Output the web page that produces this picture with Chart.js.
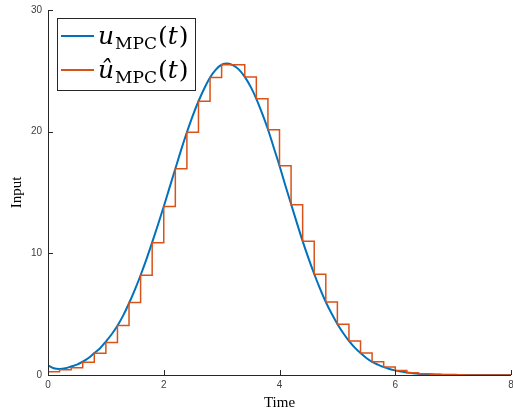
<!DOCTYPE html>
<html>
<head>
<meta charset="utf-8">
<script src="https://cdn.jsdelivr.net/npm/chart.js@4"></script>
<style>
  html, body { margin: 0; padding: 0; background: #fff; }
  #wrap { width: 513px; height: 412px; position: relative; }
</style>
</head>
<body>
<div id="wrap"><canvas id="mpcChart"></canvas></div>
<script>
// time grid of the continuous input (0.1 s) and of the held input (0.2 s)
const tCurve = [];
for (let i = 0; i <= 80; i++) tCurve.push(+(i * 0.1).toFixed(1));
const tSteps = [];
for (let i = 0; i <= 40; i++) tSteps.push(+(i * 0.2).toFixed(1));

// u_MPC(t)
const uCurve = [
  0.8, 0.55, 0.5, 0.55, 0.7, 0.85, 1.1, 1.4, 1.8, 2.2,
  2.75, 3.35, 4.05, 4.9, 5.9, 7.0, 8.2, 9.5, 10.9, 12.35,
  13.85, 15.4, 16.95, 18.5, 19.95, 21.3, 22.5, 23.55, 24.45, 25.1,
  25.5, 25.6, 25.45, 25.1, 24.5, 23.7, 22.7, 21.5, 20.2, 18.7,
  17.2, 15.6, 14.05, 12.5, 11.0, 9.6, 8.3, 7.1, 6.0, 5.05,
  4.2, 3.45, 2.8, 2.25, 1.8, 1.4, 1.08, 0.85, 0.65, 0.5,
  0.38, 0.28, 0.2, 0.15, 0.11, 0.08, 0.06, 0.04, 0.03, 0.02,
  0.015, 0.01, 0.01, 0.005, 0.005, 0, 0, 0, 0, 0,
  0
];

// \hat u_MPC(t), zero-order hold values, last one repeated to close at t = 8
const uHold = [
  0.27, 0.43, 0.6, 1.04, 1.78, 2.68, 4.07, 5.95, 8.2, 10.87,
  13.85, 16.95, 19.95, 22.5, 24.45, 25.5, 25.5, 24.5, 22.7, 20.15,
  17.2, 14.0, 11.0, 8.28, 6.0, 4.18, 2.79, 1.8, 1.08, 0.65,
  0.36, 0.19, 0.1, 0.05, 0.03, 0.02, 0.01, 0, 0, 0,
  0
];

const xTicks = [0, 2, 4, 6, 8];
const yTicks = [0, 10, 20, 30];

const blue = '#0072BD';
const orange = '#D95319';
const axisColor = '#262626';

// MATLAB style: axis lines on left/bottom, ticks pointing inward
const inwardTicks = {
  id: 'inwardTicks',
  afterDatasetsDraw: (chart) => {
    const {ctx, chartArea, scales} = chart;
    ctx.save();
    ctx.strokeStyle = axisColor;
    ctx.lineWidth = 1;
    ctx.beginPath();
    ctx.moveTo(chartArea.left + 0.5, chartArea.top);
    ctx.lineTo(chartArea.left + 0.5, chartArea.bottom + 0.5);
    ctx.lineTo(chartArea.right, chartArea.bottom + 0.5);
    xTicks.forEach(v => {
      const x = Math.round(scales.x.getPixelForValue(v)) + 0.5;
      ctx.moveTo(x, chartArea.bottom);
      ctx.lineTo(x, chartArea.bottom - 5);
    });
    yTicks.forEach(v => {
      const y = Math.round(scales.y.getPixelForValue(v)) + 0.5;
      ctx.moveTo(chartArea.left, y);
      ctx.lineTo(chartArea.left + 5, y);
    });
    ctx.stroke();
    ctx.restore();
  }
};

// legend with LaTeX-like labels
const mathLegend = {
  id: 'mathLegend',
  afterDraw: (chart) => {
    const {ctx} = chart;
    const box = {x: 57, y: 18, w: 138, h: 72};
    ctx.save();
    ctx.fillStyle = '#fff';
    ctx.fillRect(box.x, box.y, box.w, box.h);
    ctx.strokeStyle = axisColor;
    ctx.lineWidth = 1;
    ctx.strokeRect(box.x + 0.5, box.y + 0.5, box.w, box.h);

    const rows = [
      {color: blue, base: 'u', y: 36},
      {color: orange, base: 'û', y: 70}
    ];
    const big = 25, small = 17;
    const fam = '"DejaVu Serif", "Liberation Serif", serif';
    rows.forEach(r => {
      ctx.strokeStyle = r.color;
      ctx.lineWidth = 2;
      ctx.beginPath();
      ctx.moveTo(61, r.y);
      ctx.lineTo(94, r.y);
      ctx.stroke();

      ctx.fillStyle = '#000';
      ctx.textBaseline = 'alphabetic';
      let x = 98;
      const base = r.y + 8;
      ctx.font = 'italic ' + big + 'px ' + fam;
      ctx.fillText(r.base, x, base);
      x += ctx.measureText(r.base).width + 1;
      ctx.font = small + 'px ' + fam;
      ctx.fillText('MPC', x, base + 5);
      x += ctx.measureText('MPC').width + 1;
      ctx.font = big + 'px ' + fam;
      ctx.fillText('(', x, base);
      x += ctx.measureText('(').width;
      ctx.font = 'italic ' + big + 'px ' + fam;
      ctx.fillText('t', x, base);
      x += ctx.measureText('t').width + 1;
      ctx.font = big + 'px ' + fam;
      ctx.fillText(')', x, base);
    });
    ctx.restore();
  }
};

const ctx = document.getElementById('mpcChart').getContext('2d');
const mpcChart = new Chart(ctx, {
  type: 'line',
  data: {
    datasets: [{
      label: 'u_MPC(t)',
      data: tCurve.map((t, i) => ({x: t, y: uCurve[i]})),
      borderColor: blue,
      borderWidth: 2,
      pointRadius: 0,
      cubicInterpolationMode: 'monotone',
      fill: false,
      order: 1
    }, {
      label: 'û_MPC(t)',
      data: tSteps.map((t, i) => ({x: t, y: uHold[i]})),
      borderColor: orange,
      borderWidth: 1.5,
      pointRadius: 0,
      stepped: 'before',
      fill: false,
      order: 0
    }]
  },
  options: {
    responsive: true,
    maintainAspectRatio: false,
    animation: false,
    layout: { padding: { top: 10, right: 2, left: 0, bottom: 0 } },
    plugins: {
      legend: { display: false },
      tooltip: { enabled: false }
    },
    scales: {
      x: {
        type: 'linear',
        min: 0, max: 8,
        afterBuildTicks: (s) => { s.ticks = xTicks.map(v => ({value: v})); },
        afterFit: (s) => { s.height = 37; s.paddingLeft = 0; s.paddingRight = 0; },
        grid: { display: false, drawTicks: false },
        border: { display: false },
        ticks: { color: '#404040', font: { family: 'Liberation Sans, Arial', size: 10 }, padding: 4, maxRotation: 0 },
        title: { display: true, text: 'Time', color: '#000', font: { family: '"Liberation Serif", serif', size: 15 }, padding: { top: 0, bottom: 0 } }
      },
      y: {
        min: 0, max: 30,
        afterBuildTicks: (s) => { s.ticks = yTicks.map(v => ({value: v})); },
        afterFit: (s) => { s.width = 48; s.paddingTop = 0; s.paddingBottom = 0; },
        grid: { display: false, drawTicks: false },
        border: { display: false },
        ticks: { color: '#404040', font: { family: 'Liberation Sans, Arial', size: 10 }, padding: 6 },
        title: { display: true, text: 'Input', color: '#000', font: { family: '"Liberation Serif", serif', size: 15 }, padding: { top: 8, bottom: 0 } }
      }
    }
  },
  plugins: [inwardTicks, mathLegend]
});
</script>
</body>
</html>
